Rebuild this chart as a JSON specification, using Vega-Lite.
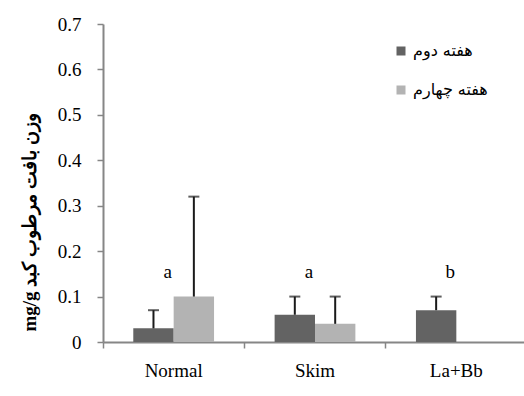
{
  "$schema": "https://vega.github.io/schema/vega-lite/v6.json",
  "autosize": "none",
  "width": 424,
  "height": 318,
  "padding": {"left": 103, "top": 24, "right": 0, "bottom": 54},
  "background": "white",
  "config": {
    "view": {"stroke": null},
    "font": "Liberation Serif"
  },
  "datasets": {
    "bars": [
      {"group": "Normal", "week": "هفته دوم", "value": 0.03, "upper": 0.07},
      {"group": "Normal", "week": "هفته چهارم", "value": 0.10, "upper": 0.32},
      {"group": "Skim", "week": "هفته دوم", "value": 0.06, "upper": 0.10},
      {"group": "Skim", "week": "هفته چهارم", "value": 0.04, "upper": 0.10},
      {"group": "La+Bb", "week": "هفته دوم", "value": 0.07, "upper": 0.10}
    ],
    "letters": [
      {"group": "Normal", "letter": "a"},
      {"group": "Skim", "letter": "a"},
      {"group": "La+Bb", "letter": "b"}
    ]
  },
  "resolve": {"axis": {"x": "independent"}},
  "layer": [
    {
      "data": {"name": "bars"},
      "mark": {"type": "bar"},
      "encoding": {
        "x": {
          "field": "group", "type": "nominal", "sort": ["Normal", "Skim", "La+Bb"],
          "scale": {"paddingInner": 0, "paddingOuter": 0},
          "axis": {
            "orient": "bottom",
            "title": null, "labelAngle": 0, "ticks": false, "domain": false,
            "labelFont": "Liberation Serif", "labelFontSize": 19, "labelColor": "black",
            "labelPadding": 19
          }
        },
        "xOffset": {
          "field": "week", "type": "nominal", "sort": ["هفته دوم", "هفته چهارم"],
          "scale": {"paddingInner": 0, "paddingOuter": 0.75}
        },
        "y": {
          "field": "value", "type": "quantitative",
          "scale": {"domain": [0, 0.7], "nice": false},
          "axis": {
            "values": [0, 0.1, 0.2, 0.3, 0.4, 0.5, 0.6, 0.7],
            "format": "~g", "grid": false,
            "domainColor": "#868686", "domainWidth": 2,
            "tickColor": "#868686", "tickWidth": 1.5, "tickSize": 6,
            "labelFont": "Liberation Serif", "labelFontSize": 19, "labelColor": "black",
            "labelPadding": 16,
            "title": "mg/g وزن بافت مرطوب کبد",
            "titleFont": "Liberation Serif", "titleFontSize": 19, "titleFontWeight": "bold",
            "titleColor": "black", "titleX": -74, "titleY": 198, "titleAngle": -90,
            "titleBaseline": "middle", "titleAlign": "center"
          }
        },
        "color": {
          "field": "week", "type": "nominal", "sort": ["هفته دوم", "هفته چهارم"],
          "scale": {"range": ["#636363", "#b3b3b3"]},
          "legend": {
            "title": null, "orient": "none", "legendX": 290, "legendY": 19,
            "symbolType": "square", "symbolSize": 81, "symbolStrokeWidth": 0,
            "labelFont": "DejaVu Sans", "labelFontSize": 16, "labelColor": "black",
            "labelOffset": 4, "rowPadding": 23
          }
        }
      }
    },
    {
      "data": {"name": "bars"},
      "mark": {"type": "rule", "color": "#1a1a1a", "strokeWidth": 2},
      "encoding": {
        "x": {"field": "group", "type": "nominal", "sort": ["Normal", "Skim", "La+Bb"], "axis": null},
        "xOffset": {"field": "week", "type": "nominal", "sort": ["هفته دوم", "هفته چهارم"]},
        "y": {"field": "value", "type": "quantitative"},
        "y2": {"field": "upper"}
      }
    },
    {
      "data": {"name": "bars"},
      "mark": {"type": "tick", "color": "#1a1a1a", "thickness": 2, "size": 11, "orient": "horizontal"},
      "encoding": {
        "x": {"field": "group", "type": "nominal", "sort": ["Normal", "Skim", "La+Bb"], "axis": null},
        "xOffset": {"field": "week", "type": "nominal", "sort": ["هفته دوم", "هفته چهارم"]},
        "y": {"field": "upper", "type": "quantitative"}
      }
    },
    {
      "data": {"name": "letters"},
      "mark": {"type": "text", "font": "Liberation Serif", "fontSize": 19, "dx": -6, "baseline": "alphabetic", "color": "black"},
      "encoding": {
        "x": {
          "field": "group", "type": "nominal", "sort": ["Normal", "Skim", "La+Bb"],
          "axis": {
            "orient": "bottom",
            "bandPosition": 0, "labels": false, "title": null,
            "domainColor": "#868686", "domainWidth": 2,
            "tickColor": "#868686", "tickWidth": 1.5, "tickSize": 6
          }
        },
        "y": {"datum": 0.141, "type": "quantitative"},
        "text": {"field": "letter"}
      }
    }
  ]
}
